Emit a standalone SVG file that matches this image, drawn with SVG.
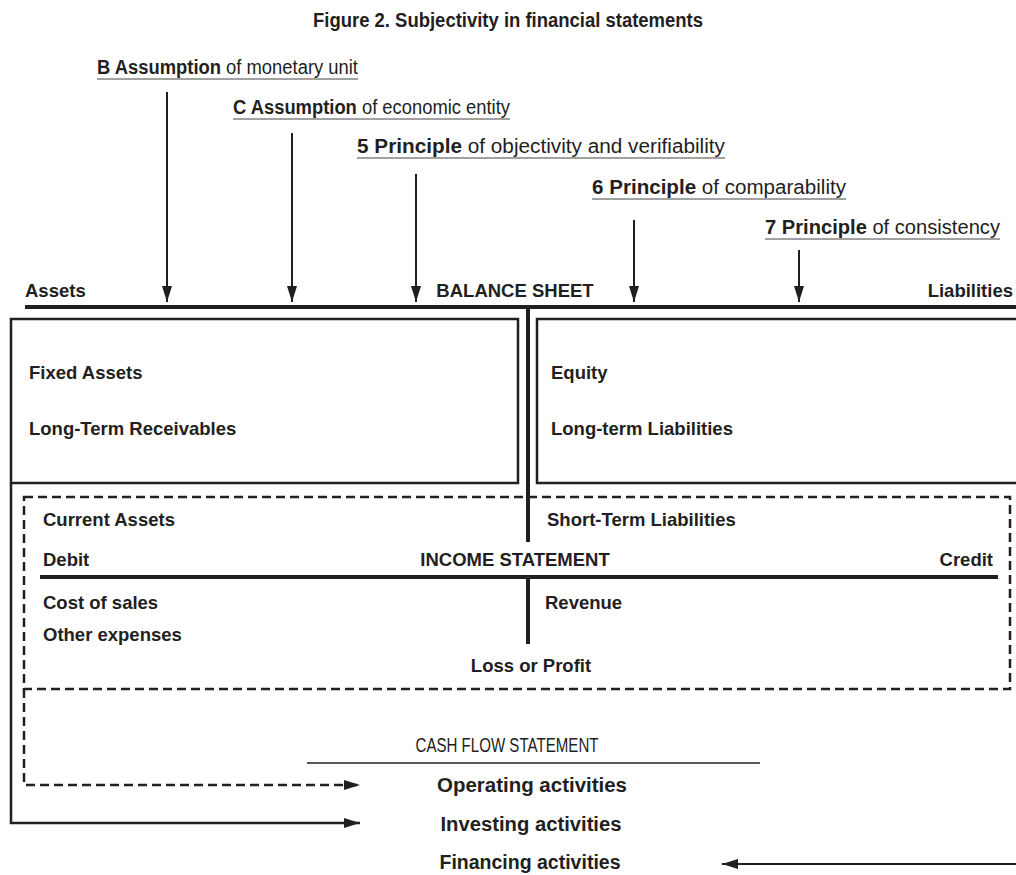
<svg xmlns="http://www.w3.org/2000/svg" width="1016" height="875" viewBox="0 0 1016 875">
<style>
text{font-family:"Liberation Sans",Arial,sans-serif;fill:#231f20}
.t{font-size:18.5px;font-weight:bold}
.c{font-size:20px}
.b{font-weight:bold}
.ul{stroke:#444;stroke-width:1.2}
.thick{stroke:#231f20;stroke-width:4;fill:none}
.box{stroke:#231f20;stroke-width:2.5;fill:none}
.dash{stroke:#231f20;stroke-width:2.5;fill:none;stroke-dasharray:9,5}
.arr{stroke:#231f20;stroke-width:2;fill:none}
</style>
<defs>
<marker id="ah" viewBox="0 0 16 10" refX="16" refY="5" markerWidth="16" markerHeight="10" markerUnits="userSpaceOnUse" orient="auto">
<path d="M0,0 L16,5 L0,10 z" fill="#231f20"/>
</marker>
</defs>
<rect width="1016" height="875" fill="#fff"/>
<g id="title">
<text x="508" y="27" text-anchor="middle" class="c b" textLength="390" lengthAdjust="spacingAndGlyphs">Figure 2. Subjectivity in financial statements</text>
</g>
<g id="label-B">
<text x="97" y="74" class="c" textLength="261" lengthAdjust="spacingAndGlyphs"><tspan class="b">B Assumption</tspan> of monetary unit</text>
<line x1="97" y1="79" x2="358" y2="79" class="ul"/>
</g>
<g id="label-C">
<text x="233" y="114" class="c" textLength="277" lengthAdjust="spacingAndGlyphs"><tspan class="b">C Assumption</tspan> of economic entity</text>
<line x1="233" y1="119" x2="510" y2="119" class="ul"/>
</g>
<g id="label-5">
<text x="357" y="153" class="c" textLength="368" lengthAdjust="spacingAndGlyphs"><tspan class="b">5 Principle</tspan> of objectivity and verifiability</text>
<line x1="357" y1="158" x2="725" y2="158" class="ul"/>
</g>
<g id="label-6">
<text x="592" y="194" class="c" textLength="254" lengthAdjust="spacingAndGlyphs"><tspan class="b">6 Principle</tspan> of comparability</text>
<line x1="592" y1="199" x2="846" y2="199" class="ul"/>
</g>
<g id="label-7">
<text x="765" y="234" class="c" textLength="235" lengthAdjust="spacingAndGlyphs"><tspan class="b">7 Principle</tspan> of consistency</text>
<line x1="765" y1="239" x2="1000" y2="239" class="ul"/>
</g>
<g id="balance-sheet">
<text x="25" y="297" class="t">Assets</text>
<text x="515" y="297" class="t" text-anchor="middle">BALANCE SHEET</text>
<text x="1013" y="297" class="t" text-anchor="end">Liabilities</text>
<line x1="25" y1="307" x2="1016" y2="307" class="thick"/>
<line x1="528" y1="307" x2="528" y2="542" class="thick"/>
</g>
<g id="assets-box">
<rect x="11" y="319" width="507" height="164" class="box"/>
<text x="29" y="379" class="t">Fixed Assets</text>
<text x="29" y="435" class="t">Long-Term Receivables</text>
</g>
<g id="liabilities-box">
<path d="M1020,319 H537 V483 H1020" class="box"/>
<text x="551" y="379" class="t">Equity</text>
<text x="551" y="435" class="t">Long-term Liabilities</text>
</g>
<g id="income-statement">
<rect x="24" y="497" width="986" height="192" class="dash"/>
<text x="43" y="526" class="t">Current Assets</text>
<text x="547" y="526" class="t">Short-Term Liabilities</text>
<text x="43" y="566" class="t">Debit</text>
<text x="515" y="566" class="t" text-anchor="middle">INCOME STATEMENT</text>
<text x="993" y="566" class="t" text-anchor="end">Credit</text>
<line x1="40" y1="577" x2="998" y2="577" class="thick"/>
<line x1="528" y1="579" x2="528" y2="644" class="thick"/>
<text x="43" y="609" class="t">Cost of sales</text>
<text x="545" y="609" class="t">Revenue</text>
<text x="43" y="641" class="t">Other expenses</text>
<text x="531" y="672" class="t" text-anchor="middle">Loss or Profit</text>
</g>
<g id="cash-flow">
<text x="507" y="752" class="c" text-anchor="middle" textLength="183" lengthAdjust="spacingAndGlyphs">CASH FLOW STATEMENT</text>
<line x1="307" y1="763" x2="760" y2="763" stroke="#231f20" stroke-width="1.5"/>
<text x="532" y="792" class="c b" text-anchor="middle" textLength="190" lengthAdjust="spacingAndGlyphs">Operating activities</text>
<text x="531" y="831" class="c b" text-anchor="middle" textLength="181" lengthAdjust="spacingAndGlyphs">Investing activities</text>
<text x="530" y="869" class="c b" text-anchor="middle" textLength="181" lengthAdjust="spacingAndGlyphs">Financing activities</text>
</g>
<g id="connectors">
<line x1="167" y1="92" x2="167" y2="302" class="arr" marker-end="url(#ah)"/>
<line x1="292" y1="133" x2="292" y2="302" class="arr" marker-end="url(#ah)"/>
<line x1="416" y1="174" x2="416" y2="302" class="arr" marker-end="url(#ah)"/>
<line x1="634" y1="220" x2="634" y2="302" class="arr" marker-end="url(#ah)"/>
<line x1="799" y1="250" x2="799" y2="302" class="arr" marker-end="url(#ah)"/>
<path d="M24,689 V785 H360" class="dash" marker-end="url(#ah)"/>
<path d="M11,483 V823 H360" class="box" marker-end="url(#ah)"/>
<path d="M1016,864 H722" class="arr" marker-end="url(#ah)"/>
</g>
</svg>
